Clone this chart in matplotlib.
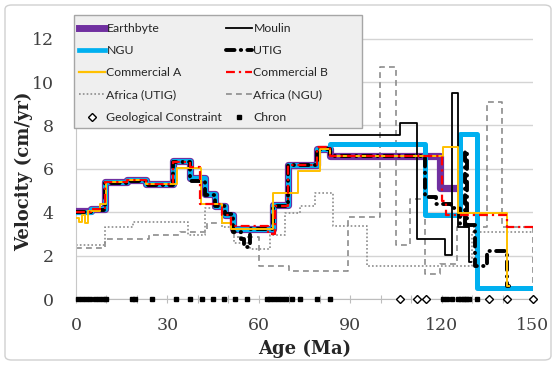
import numpy as np
import matplotlib
matplotlib.use("Agg")
import matplotlib.pyplot as plt
from matplotlib.lines import Line2D
from matplotlib.patches import Rectangle, FancyBboxPatch

# Plate velocity models: step edges (Ma) and velocity in each interval (cm/yr)
earthbyte_age = [0, 5, 9.5, 16.7, 23, 32, 37.4, 42.3, 45.6, 49, 51.6, 64.6, 69.6, 79, 83.4, 119.5, 124.5]
earthbyte_vel = [4.05, 4.15, 5.4, 5.5, 5.3, 6.35, 5.6, 4.85, 4.3, 3.85, 3.25, 4.35, 6.2, 6.93, 6.6, 5.1]

ngu_age = [0, 5, 9.5, 16.7, 23, 32, 37.4, 42.3, 45.6, 49, 51.6, 64.6, 69.6, 79, 83.4, 114.5, 126, 131.6, 150]
ngu_vel = [4.0, 4.15, 5.4, 5.5, 5.3, 6.35, 5.6, 4.85, 4.3, 3.85, 3.25, 4.35, 6.2, 6.93, 7.15, 3.85, 7.6, 0.5]

utig_age = [0, 5, 9.5, 16.7, 23, 32, 37.4, 42.3, 45.6, 49, 51.6, 54, 55, 57, 64.6, 69.6, 79, 83.4,
            114.5, 118, 123, 126, 127.6, 128.2, 131, 135, 141.4, 142]
utig_vel = [4.0, 4.1, 5.35, 5.45, 5.25, 6.3, 5.45, 4.8, 4.3, 3.9, 3.1, 2.75, 2.4, 3.25, 4.3, 6.2, 6.93,
            6.6, 4.7, 4.4, 4.2, 3.4, 6.8, 3.4, 1.5, 2.2, 0.6]

moulin_age = [83.4, 106.3, 112, 121, 123.4, 125.4, 129, 129.5]
moulin_vel = [7.55, 8.1, 2.76, 2.05, 9.5, 3.3, 1.7]

comm_a_age = [0, 1, 2, 3, 4, 8, 9.8, 16.7, 23, 33, 41, 48, 51, 64.6, 73, 80, 83.4, 120.5, 125.4, 141.4, 142]
comm_a_vel = [3.75, 3.55, 3.85, 3.5, 4.05, 4.4, 5.4, 5.5, 5.3, 6.05, 4.4, 3.5, 3.25, 4.9, 5.9, 6.93,
              6.6, 7.0, 3.95, 0.6]

comm_b_age = [0, 5, 9.5, 16.7, 23, 32, 37.4, 40.7, 48, 51, 63, 65.3, 69.6, 79, 83.4, 120, 121.5, 141.4, 150]
comm_b_vel = [4.0, 4.15, 5.4, 5.5, 5.3, 6.3, 6.1, 4.4, 3.87, 3.35, 3.0, 4.3, 6.2, 7.0, 6.6, 4.5, 3.85, 3.3]

africa_utig_age = [0, 9.5, 18.8, 36.9, 42.3, 48, 52, 57, 63.7, 68.6, 73.5, 78.4, 84.3, 95.5, 130, 150]
africa_utig_vel = [2.5, 3.3, 3.55, 2.93, 4.2, 3.3, 2.6, 2.3, 2.93, 3.95, 4.3, 4.9, 3.37, 1.5, 3.07]

africa_ngu_age = [0, 9.5, 24, 34, 43, 52, 60, 70, 89.3, 99.7, 105, 109.6, 114.5, 119.5, 125, 135, 139.8, 150, 150]
africa_ngu_vel = [2.35, 2.75, 2.95, 3.1, 3.5, 2.85, 1.5, 1.3, 3.78, 10.7, 2.5, 4.6, 1.15, 1.6, 3.3, 9.07, 3.3, 0.6]

geo_constraint = [106.3, 112, 114.8, 135.5, 141.4, 150]
chron = [0.5, 1.9, 3.3, 4.7, 6.1, 7.5, 8.9, 10.0, 18.3, 19.3, 24.9, 32.8, 37.4, 41.3, 44.9, 48.6,
         52.2, 56.1, 62.6, 63.8, 65.0, 66.3, 67.5, 68.8, 70.9, 73.5, 79.1, 83.4, 120.5, 121.8,
         123.4, 125.4, 126.3, 127.2, 128.1, 129.0, 131.6]


def step_line(ax, ages, vel, **kw):
    # repeat last value so the final interval is closed by the step
    y = list(vel) + [vel[-1]]
    return ax.step(ages, y, where="post", **kw)


fig = plt.figure(figsize=(5.56, 3.65), dpi=100)
ax = fig.add_axes([76 / 556, 66 / 365, 457 / 556, 282 / 365])

c_purple = "#7030A0"
c_blue = "#00B0F0"
c_gold = "#FFC000"
c_red = "#FF0000"
c_gray = "#8c8c8c"

step_line(ax, africa_utig_age, africa_utig_vel, color=c_gray, lw=1.2, dashes=(1, 1.3), zorder=2)
step_line(ax, africa_ngu_age, africa_ngu_vel, color=c_gray, lw=1.2, dashes=(3.5, 2.5), zorder=2.1)
step_line(ax, earthbyte_age, earthbyte_vel, color=c_purple, lw=5.2, solid_joinstyle="round", zorder=3)
step_line(ax, ngu_age, ngu_vel, color=c_blue, lw=3.6, solid_joinstyle="round", zorder=3.1)
step_line(ax, moulin_age, moulin_vel, color="black", lw=1.3, zorder=3.2)
step_line(ax, utig_age, utig_vel, color="black", lw=2.8, dashes=(2.2, 1.6, 0.1, 1.6),
          dash_capstyle="round", zorder=3.3)
step_line(ax, comm_a_age, comm_a_vel, color=c_gold, lw=1.4, zorder=3.4)
step_line(ax, comm_b_age, comm_b_vel, color=c_red, lw=1.6, dashes=(4, 1.8, 1, 1.8), zorder=3.5)

ax.plot(chron, np.zeros(len(chron)), ls="none", marker="s", ms=2.6, color="black",
        clip_on=False, zorder=4)
ax.plot(geo_constraint, np.zeros(len(geo_constraint)), ls="none", marker="D", ms=4,
        mfc="white", mec="black", mew=1.0, clip_on=False, zorder=4)

ax.set_xlim(0, 150)
ax.set_ylim(0, 13)
ax.set_yticks(np.arange(0, 13, 2))
ax.set_xticks(np.arange(0, 151, 10))
ax.set_xticklabels([str(v) if v % 30 == 0 else "" for v in range(0, 151, 10)])
ax.grid(axis="y", color="#d4d4d4", lw=1)
ax.set_axisbelow(True)
for s in ["top", "right"]:
    ax.spines[s].set_visible(False)
ax.spines["left"].set_color("#c8c8c8")
ax.spines["bottom"].set_color("#bdbdbd")
ax.tick_params(axis="y", length=0, pad=16, labelsize=12.5, labelcolor="#404040")
ax.tick_params(axis="x", direction="inout", length=6, color="#bdbdbd", pad=10,
               labelsize=12.5, labelcolor="#404040")
for lab in ax.get_xticklabels() + ax.get_yticklabels():
    lab.set_family("DejaVu Serif")

fig.text(24 / 556, 1 - 171 / 365, "Velocity (cm/yr)", rotation=90, ha="center", va="center",
         family="DejaVu Serif", weight="bold", fontsize=13, color="#262626")
fig.text(305 / 556, 1 - 349 / 365, "Age (Ma)", ha="center", va="center",
         family="DejaVu Serif", weight="bold", fontsize=13, color="#262626")

# legend box drawn separately so its size is fixed
box = Rectangle((74 / 556, 1 - 128 / 365), 288 / 556, 113 / 365, transform=fig.transFigure,
                facecolor="#efefef", edgecolor="#a6a6a6", lw=1, zorder=4.5, clip_on=False)
ax.add_patch(box)

handles = [
    Line2D([], [], color=c_purple, lw=5),
    Line2D([], [], color=c_blue, lw=3.4),
    Line2D([], [], color=c_gold, lw=1.6),
    Line2D([], [], color=c_gray, lw=1.2, dashes=(1, 1.3)),
    Line2D([], [], ls="none", marker="D", ms=4, mfc="white", mec="black", mew=1.0),
    Line2D([], [], color="black", lw=1.3),
    Line2D([], [], color="black", lw=2.8, dashes=(2.2, 1.6, 0.1, 1.6), dash_capstyle="round"),
    Line2D([], [], color=c_red, lw=1.6, dashes=(4, 1.8, 1, 1.8)),
    Line2D([], [], color=c_gray, lw=1.2, dashes=(3.5, 2.5)),
    Line2D([], [], ls="none", marker="s", ms=2.6, color="black"),
]
labels = ["Earthbyte", "NGU", "Commercial A", "Africa (UTIG)", "Geological Constraint",
          "Moulin", "UTIG", "Commercial B", "Africa (NGU)", "Chron"]
leg = ax.legend(handles, labels, ncol=2, loc="upper left",
                bbox_to_anchor=(68 / 556, 1 - 12 / 365), bbox_transform=fig.transFigure,
                frameon=False, prop={"family": "Lato", "size": 8.8},
                handlelength=2.1, handletextpad=0.15, columnspacing=0.3, labelspacing=0.92,
                borderpad=0.4)
leg.set_zorder(5)
for t in leg.get_texts():
    t.set_color("#262626")

border = FancyBboxPatch((5 / 556, 5 / 365), 546 / 556, 355 / 365, boxstyle="round,pad=0,rounding_size=0.012",
                        transform=fig.transFigure, facecolor="none", edgecolor="#d0d0d0", lw=1)
fig.patches.append(border)

fig.savefig("out.png", dpi=100)
